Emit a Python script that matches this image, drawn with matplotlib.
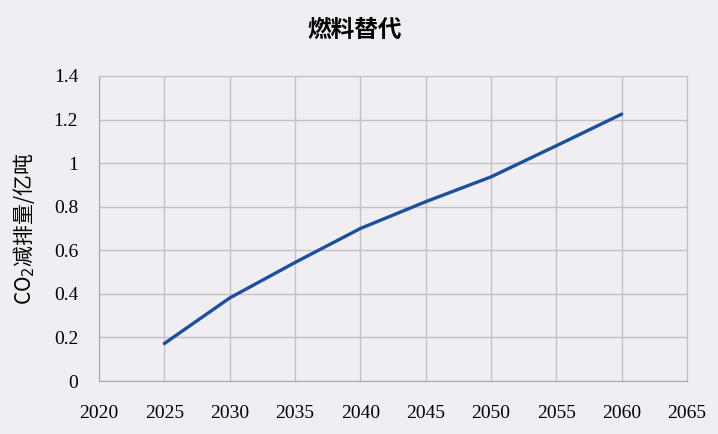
import matplotlib
matplotlib.use("Agg")
import matplotlib.pyplot as plt

plt.rcParams['font.family'] = ['Noto Sans CJK SC', 'DejaVu Sans']
plt.rcParams['mathtext.fontset'] = 'dejavusans'

# --- data ---
years = [2025, 2030, 2035, 2040, 2045, 2050, 2055, 2060]
reduction = [0.172, 0.381, 0.544, 0.700, 0.823, 0.937, 1.080, 1.225]
x_ticks = list(range(2020, 2066, 5))
y_ticks = [0, 0.2, 0.4, 0.6, 0.8, 1.0, 1.2, 1.4]
y_labels = ["0", "0.2", "0.4", "0.6", "0.8", "1", "1.2", "1.4"]

BG = "#F1EEF3"
GRID = "#C4C0C8"

fig = plt.figure(figsize=(7.18, 4.34), dpi=100, facecolor=BG)
ax = fig.add_axes([0.1379, 0.1221, 0.819, 0.7028], facecolor=BG)

ax.plot(years, reduction, color="#1C4F9C", linewidth=2.4, solid_capstyle="round")

ax.set_xlim(2020, 2065)
ax.set_ylim(0, 1.4)
ax.set_xticks(x_ticks)
ax.set_yticks(y_ticks)
ax.set_yticklabels(y_labels)
ax.grid(True, color=GRID, linewidth=1.0)
ax.set_axisbelow(True)
for s in ax.spines.values():
    s.set_color(GRID)
ax.spines["left"].set_color("#A8A4AC")
ax.spines["bottom"].set_color("#A8A4AC")

ax.tick_params(axis="x", length=0, pad=17, labelsize=14)
ax.tick_params(axis="y", length=0, pad=15, labelsize=14)
for lbl in ax.get_xticklabels() + ax.get_yticklabels():
    lbl.set_fontfamily("Liberation Serif")

ax.set_ylabel("CO$_2$减排量/亿吨", fontsize=15, labelpad=12)
fig.text(0.494, 0.931, "燃料替代", ha="center", va="center", fontsize=17,
         fontweight="bold")

fig.savefig("out.png", dpi=100, facecolor=BG)
